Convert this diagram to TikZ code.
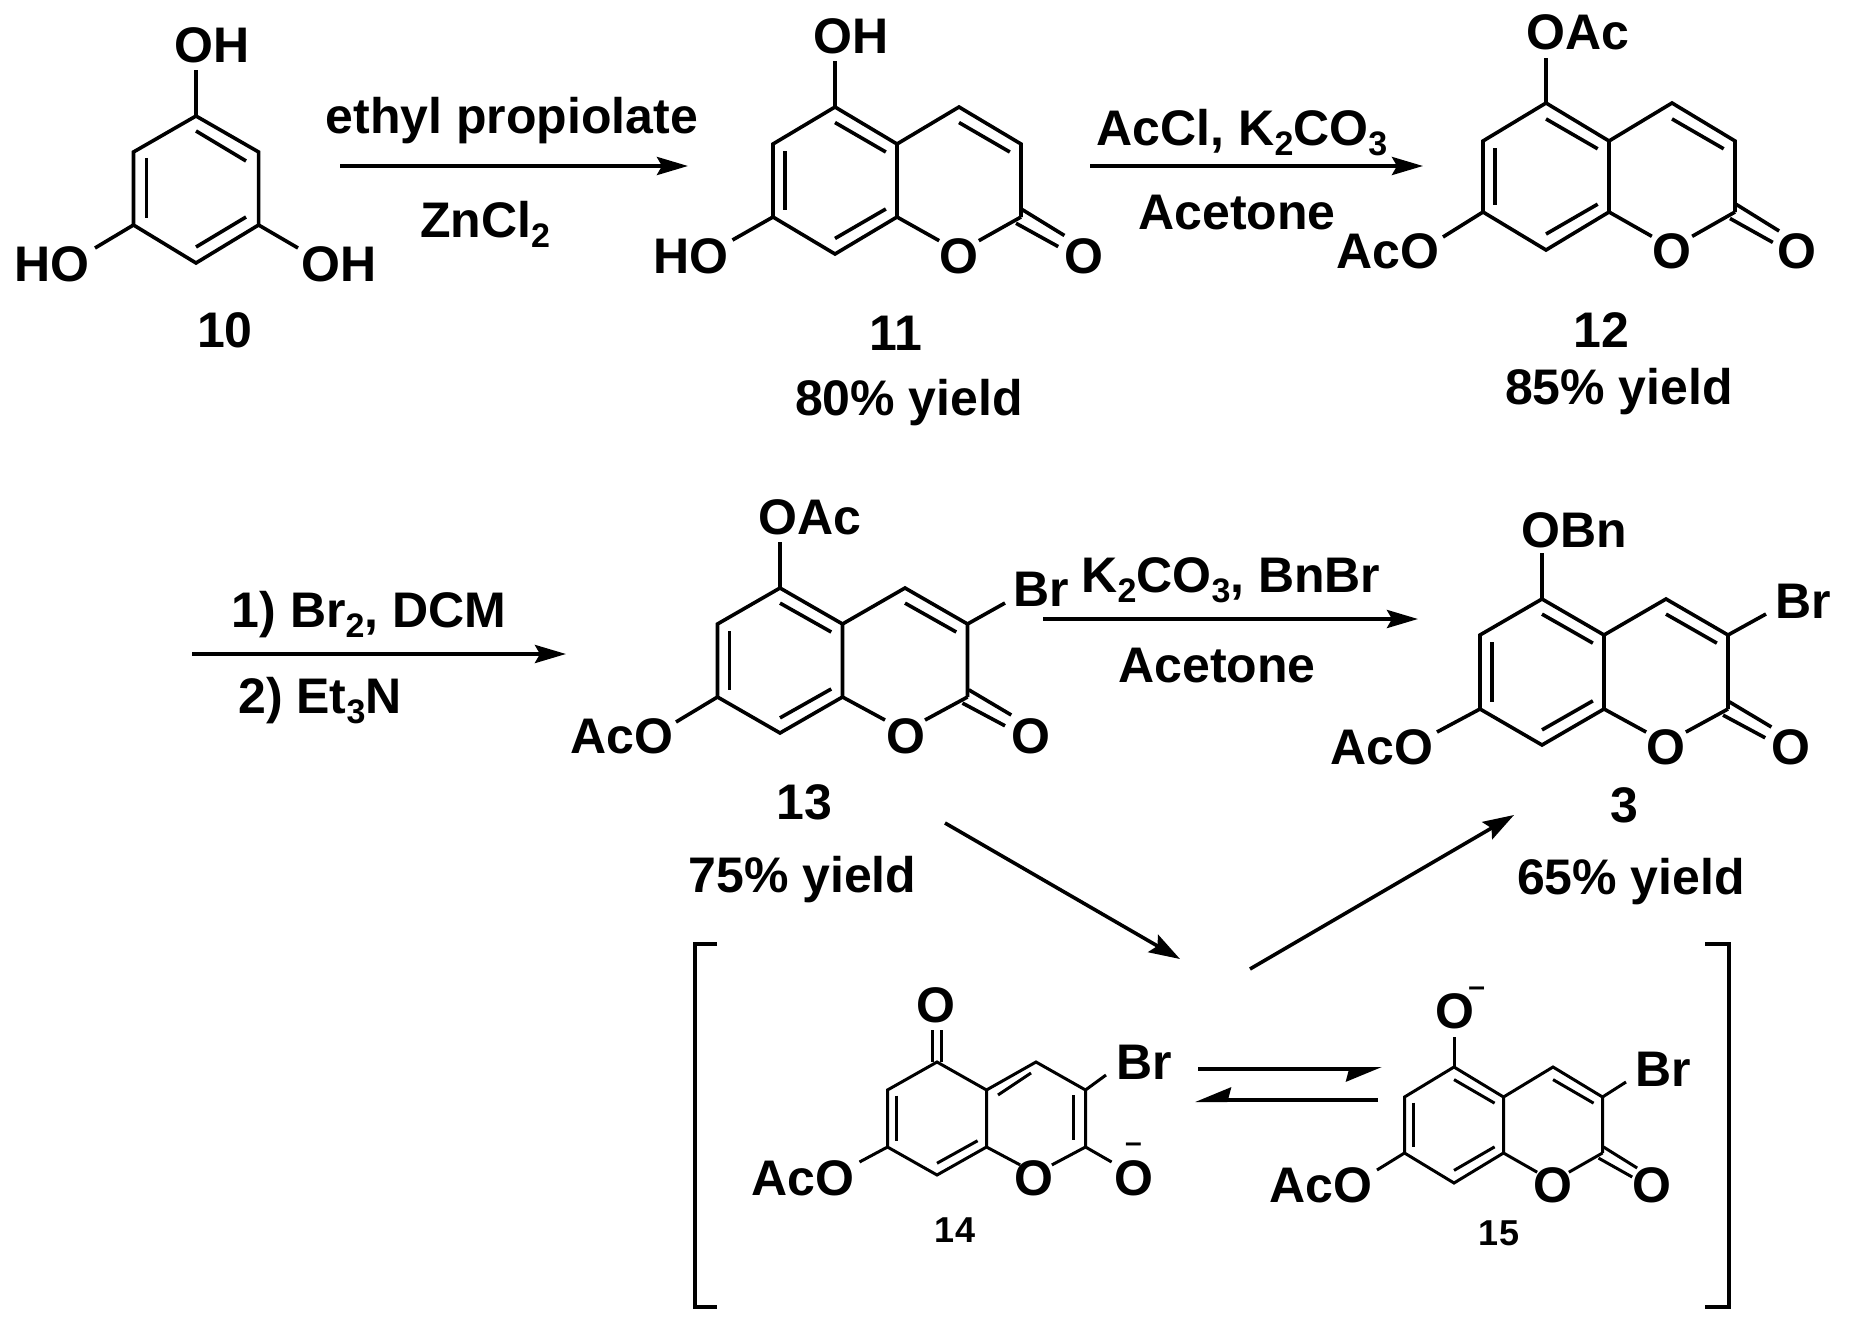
\documentclass[tikz,border=0pt]{standalone}
\usepackage{fontspec}
\setmainfont{Liberation Sans}
\usetikzlibrary{arrows.meta}
\newcommand{\Sub}[1]{\raisebox{-10pt}{\fontsize{34}{34}\selectfont #1}}
\newcommand{\Skel}[6]{%
 \coordinate (#1a) at (#2,#3);
 \coordinate (#1b) at ({#2+#4},{#3+#5});
 \coordinate (#1c) at ({#2+#4},{#3+#5+#6});
 \coordinate (#1d) at (#2,{#3+2*#5+#6});
 \coordinate (#1e) at ({#2-#4},{#3+#5+#6});
 \coordinate (#1f) at ({#2-#4},{#3+#5});
 \coordinate (#1g) at ({#2+2*#4},#3);
 \coordinate (#1h) at ({#2+3*#4},{#3+#5});
 \coordinate (#1i) at ({#2+3*#4},{#3+#5+#6});
 \coordinate (#1j) at ({#2+1.68*#4},{#3+1.64*#5+#6});
 \coordinate (#1k) at ({#2+2.32*#4},{#3+1.64*#5+#6});
 \coordinate (#1l) at ({#2-.81*#4},{#3+#5+.1*#6});
 \coordinate (#1m) at ({#2-.81*#4},{#3+#5+.9*#6});
 \coordinate (#1n) at (#2,{#3+1.58*#5+#6});
 \coordinate (#1o) at ({#2+.82*#4},{#3+#5+.89*#6});
 \draw[bond] (#1a)--(#1b)--(#1c)--(#1d)--(#1e)--(#1f)--cycle;
 \draw[bond] (#1b)--(#1g)--(#1h)--(#1i);
 \draw[bond] (#1c)--(#1j);
 \draw[bond] (#1i)--(#1k);
 \draw[bond] (#1l)--(#1m);
 \draw[bond] (#1n)--(#1o);
}
\newcommand{\Std}[6]{%
 \coordinate (#1p) at (#2,{#3+.42*#5});
 \coordinate (#1q) at ({#2+.82*#4},{#3+#5+.11*#6});
 \coordinate (#1r) at ({#2+2*#4},{#3+.42*#5});
 \coordinate (#1s) at ({#2+2.82*#4},{#3+#5+.11*#6});
 \coordinate (#1t) at ({#2+3.02*#4},{#3+.8*#5+#6});
 \coordinate (#1u) at ({#2+3.7*#4},{#3+1.5*#5+#6});
 \coordinate (#1v) at ({#2+2.92*#4},{#3+1.17*#5+#6});
 \coordinate (#1w) at ({#2+3.6*#4},{#3+1.8*#5+#6});
 \draw[bond] (#1p)--(#1q);
 \draw[bond] (#1r)--(#1s);
 \draw[bond] (#1t)--(#1u);
 \draw[bond] (#1v)--(#1w);
}
\tikzset{
 bond/.style={line width=3.6pt,line join=miter},
 sbond/.style={line width=3pt,line join=miter},
 rxn/.style={line width=4pt,-{Stealth[length=31pt,width=18pt,inset=5pt]}},
 rxnthin/.style={line width=3.6pt,-{Stealth[length=31pt,width=20pt,inset=5pt]}},
 hup/.style={line width=4pt,-{Stealth[harpoon,swap,length=31pt,width=25pt,inset=3pt]}},
 lab/.style={inner sep=0pt,anchor=base,font=\fontsize{50}{50}\selectfont\bfseries},
 smalllab/.style={inner sep=0pt,anchor=base,font=\fontsize{36}{36}\selectfont\bfseries},
 minuslab/.style={inner sep=0pt,anchor=base,font=\fontsize{30}{30}\selectfont\bfseries},
 bracket/.style={line width=4pt,line join=miter},
}
\begin{document}
\begin{tikzpicture}[x=1pt,y=-1pt]
\useasboundingbox (0,0) rectangle (1853,1335);
% ---- 10
\coordinate (pa) at (196,116);
\coordinate (pb) at (258.6,152);
\coordinate (pc) at (258.6,225);
\coordinate (pd) at (196,263);
\coordinate (pe) at (133.5,225);
\coordinate (pf) at (133.5,152);
\coordinate (pg) at (146.5,158);
\coordinate (ph) at (146.5,218);
\coordinate (pi) at (196,131);
\coordinate (pj) at (246,161);
\coordinate (pk) at (196,247);
\coordinate (pl) at (246,217);
\coordinate (pm) at (196,70);
\coordinate (pn) at (95,248);
\coordinate (po) at (298,248);
\draw[bond] (pa)--(pb)--(pc)--(pd)--(pe)--(pf)--cycle;
\draw[bond] (pg)--(ph);
\draw[bond] (pi)--(pj);
\draw[bond] (pk)--(pl);
\draw[bond] (pa)--(pm);
\draw[bond] (pe)--(pn);
\draw[bond] (pc)--(po);
\node[lab] (t10oh) at (212,63) {OH};
\node[lab] (t10ho) at (52,281) {HO};
\node[lab] (t10oh2) at (339,281) {OH};
\node[lab] (t10) at (225,347) {10};
% ---- arrow 1
\coordinate (r1s) at (340,166);
\coordinate (r1e) at (688,166);
\draw[rxn] (r1s)--(r1e);
\node[lab] (t1a) at (512,134) {ethyl propiolate};
\node[lab] (t1b) at (485,237) {ZnCl\Sub{2}};
% ---- 11
\Skel{q}{835}{107}{62}{37}{73}
\Std{q}{835}{107}{62}{37}{73}
\coordinate (qx) at (835,61);
\coordinate (qy) at (732.5,240);
\draw[bond] (qa)--(qx);
\draw[bond] (qe)--(qy);
\node[lab] (t11oh) at (851,54) {OH};
\node[lab] (t11ho) at (691,273) {HO};
\node[lab] (t11o) at (959,273) {O};
\node[lab] (t11oo) at (1084,273) {O};
\node[lab] (t11) at (896,350) {11};
\node[lab] (t11y) at (909,415) {80\% yield};
% ---- arrow 2
\coordinate (r2s) at (1090,166);
\coordinate (r2e) at (1423,166);
\draw[rxn] (r2s)--(r2e);
\node[lab] (t2a) at (1242,146) {AcCl, K\Sub{2}CO\Sub{3}};
\node[lab] (t2b) at (1237,229) {Acetone};
% ---- 12
\Skel{s}{1546}{103}{63}{38}{71}
\Std{s}{1546}{103}{63}{38}{71}
\coordinate (sx) at (1546,58);
\coordinate (sy) at (1443,237);
\draw[bond] (sa)--(sx);
\draw[bond] (se)--(sy);
\node[lab] (t12oac) at (1577.5,50) {OAc};
\node[lab] (t12aco) at (1388,268) {AcO};
\node[lab] (t12o) at (1672,268) {O};
\node[lab] (t12oo) at (1797,268) {O};
\node[lab] (t12) at (1601,347) {12};
\node[lab] (t12y) at (1619,404) {85\% yield};
% ---- arrow 3
\coordinate (r3s) at (192,654);
\coordinate (r3e) at (566,654);
\draw[rxn] (r3s)--(r3e);
\node[lab] (t3a) at (369,627) {1) Br\Sub{2}, DCM};
\node[lab] (t3b) at (320,713) {2) Et\Sub{3}N};
% ---- 13
\Skel{u}{780}{588}{62.5}{36}{73}
\Std{u}{780}{588}{62.5}{36}{73}
\coordinate (ux) at (780,542);
\coordinate (uy) at (676,722);
\coordinate (uz) at (1005,603);
\draw[bond] (ua)--(ux);
\draw[bond] (ue)--(uy);
\draw[bond] (uh)--(uz);
\node[lab] (t13oac) at (810,534) {OAc};
\node[lab] (t13aco) at (622,753) {AcO};
\node[lab] (t13o) at (906,753) {O};
\node[lab] (t13oo) at (1031,753) {O};
\node[lab] (t13br) at (1041,606) {Br};
\node[lab] (t13) at (804,819) {13};
\node[lab] (t13y) at (802.5,892) {75\% yield};
% ---- arrow 4
\coordinate (r4s) at (1043,619);
\coordinate (r4e) at (1418,619);
\draw[rxn] (r4s)--(r4e);
\node[lab] (t4a) at (1231,592) {K\Sub{2}CO\Sub{3}, BnBr};
\node[lab] (t4b) at (1217,682) {Acetone};
% ---- 3
\Skel{v}{1542}{599}{62}{36}{74}
\Std{v}{1542}{599}{62}{36}{74}
\coordinate (vx) at (1542,553);
\coordinate (vy) at (1437,732);
\coordinate (vz) at (1766,614);
\draw[bond] (va)--(vx);
\draw[bond] (ve)--(vy);
\draw[bond] (vh)--(vz);
\node[lab] (t3obn) at (1574,547) {OBn};
\node[lab] (t3aco) at (1382,764) {AcO};
\node[lab] (t3o) at (1666,764) {O};
\node[lab] (t3oo) at (1791,764) {O};
\node[lab] (t3br) at (1803,618) {Br};
\node[lab] (t3n) at (1624,822) {3};
\node[lab] (t3y) at (1631,894) {65\% yield};
% ---- diagonal arrows
\coordinate (d1s) at (945,823);
\coordinate (d1e) at (1180,959);
\coordinate (d2s) at (1250,969);
\coordinate (d2e) at (1514,815);
\draw[rxnthin] (d1s)--(d1e);
\draw[rxnthin] (d2s)--(d2e);
% ---- brackets
\coordinate (b1) at (717,944);
\coordinate (b2) at (695,944);
\coordinate (b3) at (695,1307);
\coordinate (b4) at (717,1307);
\coordinate (b5) at (1705,944);
\coordinate (b6) at (1729,944);
\coordinate (b7) at (1729,1307);
\coordinate (b8) at (1705,1307);
\draw[bracket] (b1)--(b2)--(b3)--(b4);
\draw[bracket] (b5)--(b6)--(b7)--(b8);
% ---- 14
\begin{scope}[bond/.style={sbond}]
\Skel{w}{937}{1062}{49.5}{28}{57}
\coordinate (wp) at (998,1095);
\coordinate (wq) at (1031,1073);
\coordinate (wr) at (1073,1095);
\coordinate (ws) at (1073,1140);
\coordinate (wt) at (932,1062);
\coordinate (wu) at (932,1030);
\coordinate (wv) at (941,1062);
\coordinate (ww) at (941,1030);
\coordinate (wx) at (1111.6,1162);
\coordinate (wy) at (859.5,1162);
\coordinate (wz) at (1106,1075);
\draw[bond] (wp)--(wq);
\draw[bond] (wr)--(ws);
\draw[bond] (wt)--(wu);
\draw[bond] (wv)--(ww);
\draw[bond] (wi)--(wx);
\draw[bond] (we)--(wy);
\draw[bond] (wh)--(wz);
\end{scope}
\node[lab] (t14o) at (936,1022) {O};
\node[lab] (t14br) at (1144,1079) {Br};
\node[lab] (t14aco) at (803,1195) {AcO};
\node[lab] (t14or) at (1034,1195) {O};
\node[lab] (t14om) at (1134,1195) {O};
\node[minuslab] (t14minus) at (1133.5,1152) {–};
\node[smalllab] (t14) at (955,1242) {14};
% ---- equilibrium
\coordinate (e1s) at (1198,1069);
\coordinate (e1e) at (1382,1069);
\coordinate (e2s) at (1378,1100);
\coordinate (e2e) at (1195,1100);
\draw[hup] (e1s)--(e1e);
\draw[hup] (e2s)--(e2e);
% ---- 15
\begin{scope}[bond/.style={sbond}]
\Skel{y}{1454}{1067}{49.5}{30}{56}
\Std{y}{1454}{1067}{49.5}{30}{56}
\coordinate (yx) at (1454,1037);
\coordinate (yy) at (1377,1170);
\coordinate (yz) at (1626,1082);
\draw[bond] (ya)--(yx);
\draw[bond] (ye)--(yy);
\draw[bond] (yh)--(yz);
\end{scope}
\node[lab] (t15om) at (1455,1028) {O};
\node[minuslab] (t15minus) at (1476.7,996) {–};
\node[lab] (t15br) at (1663.5,1086) {Br};
\node[lab] (t15aco) at (1321,1202) {AcO};
\node[lab] (t15o) at (1553,1202) {O};
\node[lab] (t15oo) at (1652,1202) {O};
\node[smalllab] (t15) at (1499,1245) {15};
\end{tikzpicture}
\end{document}
